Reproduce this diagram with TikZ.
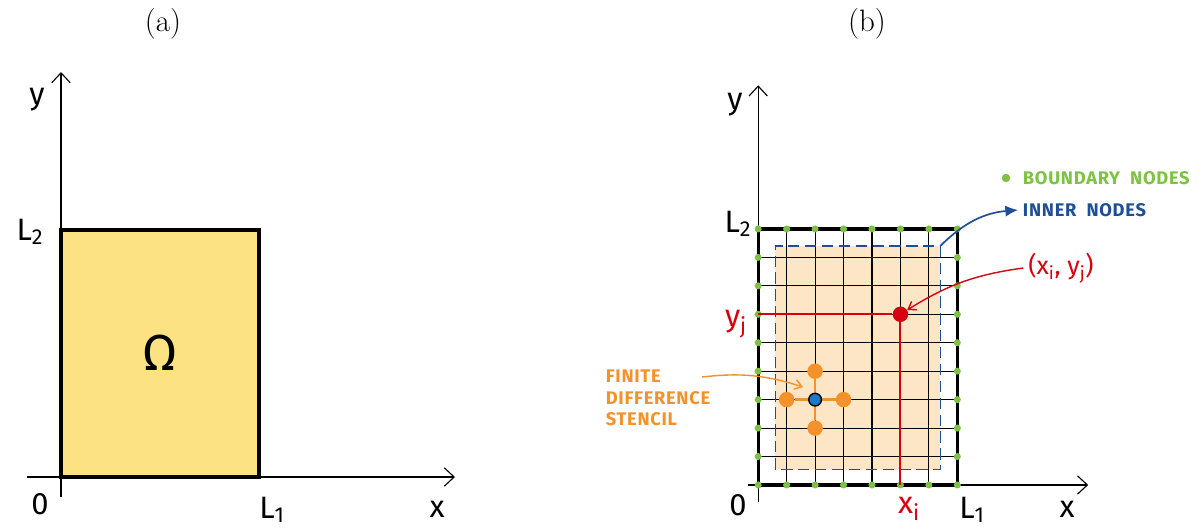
\documentclass[tikz,border=0pt]{standalone}
\usepackage{fontspec}
\newfontfamily\hand{Fira Sans}
\newfontfamily\handcaps{Fira Sans}[LetterSpace=4]
\usepackage{xcolor}
\usetikzlibrary{arrows.meta,positioning,calc}
\definecolor{domainyellow}{HTML}{FDE283}
\definecolor{stencilpeach}{HTML}{FDE6C6}
\definecolor{bgreen}{HTML}{7DC242}
\definecolor{innerblue}{HTML}{1D4E96}
\definecolor{pointred}{HTML}{D7000F}
\definecolor{stencilorange}{HTML}{F3922A}
\definecolor{centreblue}{HTML}{1E78C8}

\begin{document}
\begin{tikzpicture}[
  x=0.025cm,y=0.025cm,>=Latex,
  axis/.style={-{Straight Barb[length=7pt,width=13pt]},line width=0.8pt},
  border/.style={draw,line width=2.2pt},
  gridline/.style={line width=0.8pt},
  innerbox/.style={draw=innerblue,line width=0.9pt,dash pattern=on 8pt off 4pt},
  marker/.style={circle,inner sep=0pt},
  bnode/.style={marker,fill=bgreen,minimum size=5pt},
  stencilnode/.style={marker,fill=stencilorange,minimum size=11pt},
  axlabel/.style={font=\hand\fontsize{22}{26}\selectfont},
  note/.style={font=\handcaps\bfseries\fontsize{13}{15.5}\selectfont,align=left},
  caption/.style={font=\fontsize{22}{26}\selectfont}
]
  \useasboundingbox (0,0) rectangle (1204,531);

  % (a) the domain
  \node[caption] (capa) at (163,507) {(a)};
  \fill[domainyellow] (61,54) rectangle (259,301);
  \draw[axis] (61,34) -- (61,459);
  \draw[axis] (27,54) -- (455,54);
  \draw[border] (61,54) rectangle (259,301);
  \node[font=\hand\fontsize{36}{40}\selectfont] (omega) at (160,178) {Ω};
  \node[axlabel] (ya) at (37,431) {y};
  \node[axlabel] (xa) at (437,22) {x};
  \node[axlabel] (oa) at (40,27) {0};
  \node[axlabel] (l2a) at (30,299) {L\textsubscript{2}};
  \node[axlabel] (l1a) at (272,21) {L\textsubscript{1}};

  % (b) the grid
  \node[caption] (capb) at (867,507) {(b)};
  \begin{scope}[xshift=18.95cm,yshift=1.15cm,x=0.711cm,y=0.711cm]
    \fill[stencilpeach] (0.6,0.55) rectangle (6.4,8.4);
    \foreach \i in {1,...,6}
      \draw[gridline] (\i,0) -- (\i,9);
    \foreach \j in {1,...,8}
      \draw[gridline] (0,\j) -- (7,\j);
    \draw[innerbox] (0.6,0.55) rectangle (6.4,8.4);
    \coordinate (innercorner) at (6.4,8.4);
    \draw[axis] (0,-0.6) -- (0,14.05);
    \draw[axis] (-0.35,0) -- (11.6,0);
    \draw[border] (0,0) rectangle (7,9);
    % boundary nodes
    \foreach \i in {0,...,7} {
      \node[bnode] at (\i,0) {};
      \node[bnode] at (\i,9) {};
    }
    \foreach \j in {1,...,8} {
      \node[bnode] at (0,\j) {};
      \node[bnode] at (7,\j) {};
    }
    % point (x_i, y_j)
    \coordinate (yj) at (0,6);
    \coordinate (xi) at (5,0);
    \node[marker,fill=pointred,minimum size=11pt] (pij) at (5,6) {};
    \draw[pointred,line width=1.4pt] (yj) -- (pij) -- (xi);
    % stencil
    \node[stencilnode] (west) at (1,3) {};
    \node[stencilnode] (east) at (3,3) {};
    \node[stencilnode] (north) at (2,4) {};
    \node[stencilnode] (south) at (2,2) {};
    \draw[stencilorange,line width=1.8pt] (west) -- (east) (north) -- (south);
    \node[marker,draw,fill=centreblue,line width=1pt,minimum size=9pt] (centre) at (2,3) {};
  \end{scope}

  \node[axlabel] (yb) at (735,426) {y};
  \node[axlabel] (xb) at (1067,22) {x};
  \node[axlabel] (ob) at (738,26) {0};
  \node[axlabel] (l2b) at (738,307) {L\textsubscript{2}};
  \node[axlabel] (l1b) at (972,21) {L\textsubscript{1}};
  \node[axlabel,text=pointred] (yjlabel) at (736,207) {y\textsubscript{j}};
  \node[axlabel,text=pointred] (xilabel) at (909,22) {x\textsubscript{i}};

  % legend and notes
  \node[note,text=bgreen,anchor=west] (bnotes) at (1018,353) {BOUNDARY\ \ NODES};
  \node[bnode,minimum size=6pt] (bdot) at (1006,353) {};
  \node[note,text=innerblue,anchor=west] (inotes) at (1018,321) {INNER\ \ NODES};
  \draw[-{Latex[length=9pt,width=8pt]},innerblue,line width=1.2pt] (innercorner) to[bend left=20] (inotes.west);
  \node[axlabel,text=pointred,font=\hand\fontsize{18}{20}\selectfont] (pijlabel) at (1061,263)
    {(x\textsubscript{i}, y\textsubscript{j})};
  \draw[-{Straight Barb[length=5pt,width=7pt]},pointred,line width=1pt] (pijlabel.west) to[bend right=12] (pij);
  \node[note,text=stencilorange] (snotes) at (658,133) {FINITE\\DIFFERENCE\\STENCIL};
  \coordinate (stail) at (702,154);
  \coordinate (shead) at (803,144);
  \draw[-{Straight Barb[length=5pt,width=7pt]},stencilorange,line width=1pt] (stail) to[bend left=12] (shead);
\end{tikzpicture}
\end{document}
